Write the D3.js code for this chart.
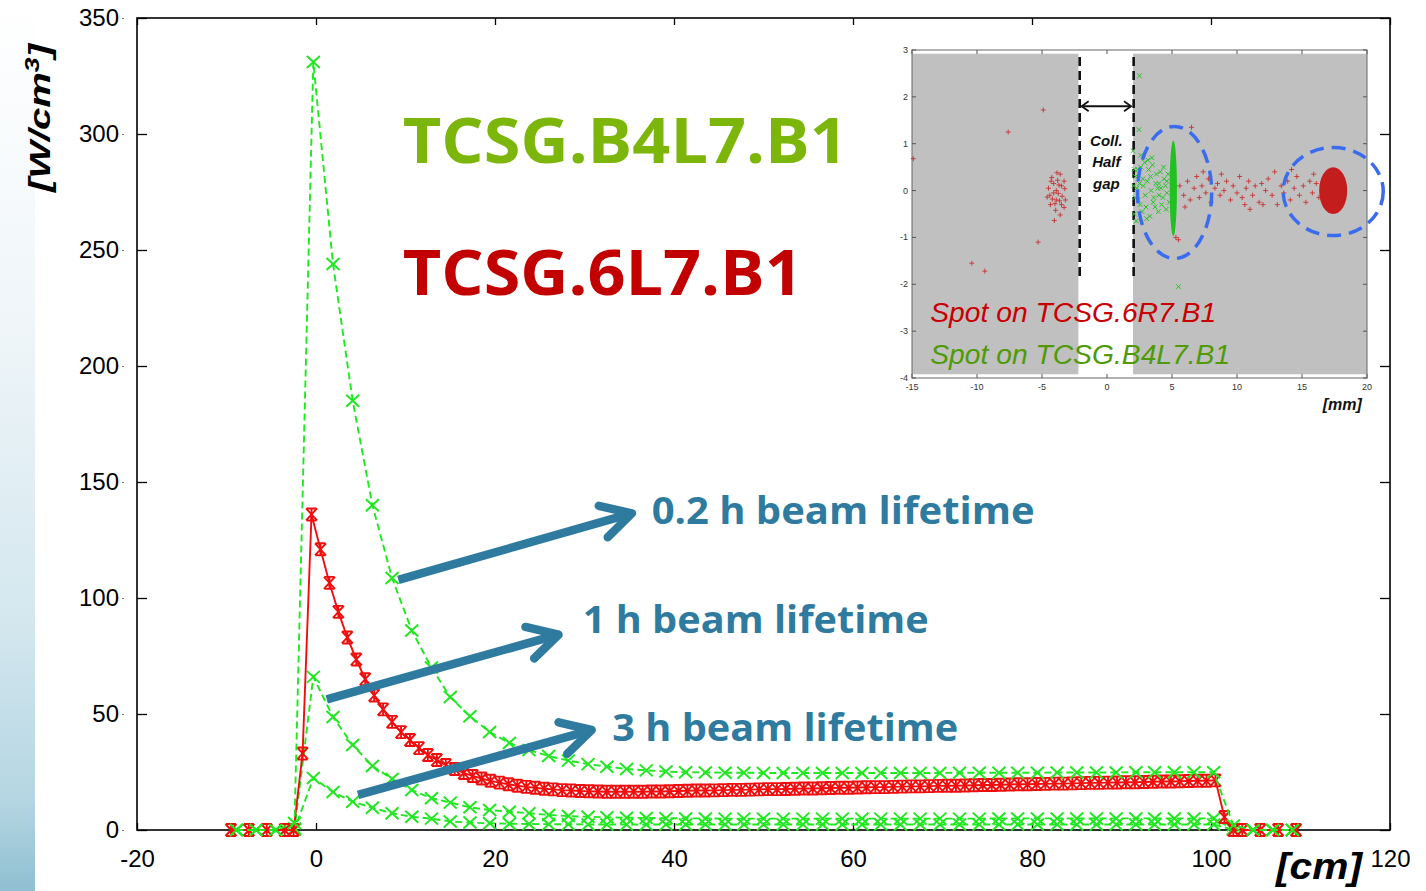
<!DOCTYPE html>
<html><head><meta charset="utf-8">
<script src="https://cdn.jsdelivr.net/npm/d3@7"></script>
<style>body{margin:0;background:#fff;overflow:hidden} svg{display:block}</style>
</head><body>
<svg id="c" width="1426" height="891"></svg>
<script>
// ---------- data ----------
const xTicks = [-20,0,20,40,60,80,100,120];
const yTicks = [0,50,100,150,200,250,300,350];

// TCSG.6L7.B1 (red, solid)
const redX = [-9.5,-7.5,-5.5,-3.5,-2.5,-1.5,-0.5,
  0.5,1.5,2.5,3.5,4.5,5.5,6.5,7.5,8.5,9.5,
  10.5,11.5,12.5,13.5,14.5,15.5,16.5,17.5,18.5,19.5,
  20.5,21.5,22.5,23.5,24.5,25.5,26.5,27.5,28.5,29.5,
  30.5,31.5,32.5,33.5,34.5,35.5,36.5,37.5,38.5,39.5,
  40.5,41.5,42.5,43.5,44.5,45.5,46.5,47.5,48.5,49.5,
  50.5,51.5,52.5,53.5,54.5,55.5,56.5,57.5,58.5,59.5,
  60.5,61.5,62.5,63.5,64.5,65.5,66.5,67.5,68.5,69.5,
  70.5,71.5,72.5,73.5,74.5,75.5,76.5,77.5,78.5,79.5,
  80.5,81.5,82.5,83.5,84.5,85.5,86.5,87.5,88.5,89.5,
  90.5,91.5,92.5,93.5,94.5,95.5,96.5,97.5,98.5,99.5,
  100.5,101.5,102.5,103.5,105.5,107.5,109.5];
const redY = [0,0,0,0,0,33,136,
  121,106.5,94,83,73.5,65,58,52,46.6,42.2,
  38.8,35.3,32.3,30.2,28,26.3,24.6,23.3,22.2,21.2,
  20.4,19.7,19.1,18.6,18.2,17.8,17.5,17.2,17.0,16.8,
  16.7,16.6,16.5,16.5,16.5,16.5,16.5,16.6,16.6,16.7,
  16.8,16.9,17.0,17.0,17.1,17.2,17.3,17.3,17.4,17.5,
  17.6,17.6,17.7,17.8,17.9,17.9,18.0,18.1,18.2,18.2,
  18.3,18.4,18.5,18.5,18.6,18.7,18.8,18.8,18.9,19.0,
  19.1,19.1,19.2,19.3,19.4,19.4,19.5,19.6,19.7,19.7,
  19.8,19.9,20.0,20.0,20.1,20.2,20.3,20.3,20.4,20.5,
  20.6,20.6,20.7,20.8,20.9,20.9,21.0,21.1,21.2,21.2,
  21.4,5.6,0,0,0,0,0];

// TCSG.B4L7.B1 (green, dashed) - three beam lifetimes
const greenX = [-8.9,-6.7,-4.5,-2.4,-0.3,1.9,4.1,6.3,8.5,10.7,
  12.9,15.0,17.2,19.4,21.6,23.8,26.0,28.2,30.4,32.5,
  34.7,36.9,39.1,41.3,43.5,45.7,47.8,50.0,52.2,54.4,
  56.6,58.8,61.0,63.1,65.3,67.5,69.7,71.9,74.1,76.3,
  78.4,80.6,82.8,85.0,87.2,89.4,91.6,93.7,95.9,98.1,
  100.3,102.5,104.7,106.9,109.1];
const green02h = [0,0,0,3,331,244,185,140,108.6,86,
  70,57.3,49,42.2,37.5,34.5,31.9,29.9,28.4,27.3,
  26.3,25.7,25.2,24.9,24.8,24.7,24.7,24.6,24.6,24.6,
  24.6,24.6,24.6,24.6,24.6,24.6,24.6,24.7,24.7,24.7,
  24.7,24.7,24.8,24.8,24.8,24.8,24.9,24.9,24.9,24.9,
  24.9,2.0,0,0,0];
const green1h = [0,0,0,0.6,66,48.7,36.6,27.6,22,17.2,
  13.7,11.8,9.8,8.6,7.9,7.2,6.5,6.0,5.7,5.5,
  5.3,5.2,5.1,5.0,5.0,4.9,4.9,4.9,4.9,4.9,
  4.9,4.9,4.9,4.9,4.9,4.9,4.9,4.9,4.9,5.0,
  5.0,5.0,5.0,5.0,5.0,5.0,5.0,5.0,5.0,5.0,
  5.0,0.4,0,0,0];
const green3h = [0,0,0,0.2,22.4,16.4,12.2,9.6,7.2,5.7,
  4.9,3.7,3.2,2.9,2.7,2.6,2.5,2.5,2.4,2.4,
  2.4,2.4,2.4,2.4,2.4,2.4,2.4,2.4,2.4,2.4,
  2.4,2.4,2.4,2.4,2.4,2.4,2.4,2.4,2.4,2.4,
  2.4,2.4,2.4,2.4,2.4,2.4,2.4,2.4,2.4,2.4,
  2.4,0.1,0,0,0];

// annotations (data coords)
const lifetimeLabels = ["0.2 h beam lifetime","1 h beam lifetime","3 h beam lifetime"];
const arrowFrom = [[9.2,107.8],[1.2,56.3],[4.7,15.1]];
const arrowTo   = [[35.3,136.5],[27.1,84.2],[30.8,43.1]];
const labelPos  = [[37.5,131.8],[29.8,85.0],[33.1,38.2]];
const labelLen  = [383,346,346];
const titles = ["TCSG.B4L7.B1","TCSG.6L7.B1"];
const titlePos = [[9.7,287.5],[9.7,230.6]];
const titleLen = [445,400];

// inset (mm)
const insetXTicks = [-15,-10,-5,0,5,10,15,20];
const insetYTicks = [3,2,1,0,-1,-2,-3,-4];
const insetRed = [[-4.3,0.2],[-4.1,0.15],[-3.9,0.0],[-4.4,-0.1],[-3.6,0.35],[-3.9,-0.2],[-4.1,-0.05],[-3.5,-0.3],
  [-4.25,0.28],[-3.7,0.12],[-3.95,-0.42],[-4.5,0.05],[-3.3,0.2],[-3.45,-0.12],[-4.0,-0.28],[-3.75,-0.06],
  [-4.2,-0.18],[-3.6,-0.52],[-3.85,0.38],[-4.6,-0.14],[-3.25,0.04],[-3.5,0.1],[-3.3,-0.36],[-4.05,-0.64],
  [-3.8,0.22],[-4.35,-0.3],[-3.65,-0.22],[-3.2,-0.2],
  [-4.9,1.72],[-7.6,1.25],[-10.4,-1.55],[-9.4,-1.72],[-5.3,-1.1],[-14.9,0.68],
  [6.5,1.35],[5.3,-1.0],[5.5,-1.05],
  [5.6,0.1],[5.9,-0.1],[6.2,0.2],[6.4,-0.2],[6.7,0.05],[6.9,0.3],[7.1,-0.15],[7.3,0.1],[7.6,-0.05],
  [7.8,0.25],[8.0,-0.25],[8.3,0.05],[8.5,0.15],[8.7,-0.1],[9.0,0.0],[9.2,0.2],[9.5,-0.2],[9.7,0.1],
  [10.0,-0.05],[10.2,0.3],[10.4,-0.15],[10.7,0.05],[10.9,0.2],[11.2,-0.1],[11.4,0.1],[11.7,-0.25],
  [11.9,0.15],[12.2,0.0],[12.4,0.25],[12.7,-0.1],[12.9,0.4],[13.1,-0.3],[13.4,0.1],[13.6,-0.05],
  [13.9,0.2],[14.1,-0.2],[14.4,0.05],[14.6,0.3],[14.8,-0.1],[15.1,0.1],[15.3,-0.25],[15.6,0.2],
  [15.8,-0.05],[16.1,0.15],[16.3,-0.15],[16.6,0.05],[8.8,0.35],[10.6,-0.3],[7.4,0.4],[12.0,-0.3],
  [14.2,0.45],[15.9,0.35],[6.0,-0.35],[11.0,-0.4]];
const insetGreen = [[2.5,2.45],[2.45,1.3],[5.5,-2.05],[2.0,0.85],[2.1,-0.5],
  [2.2,0.3],[2.4,-0.2],[2.6,0.5],[2.8,0.1],[3.0,-0.35],[3.2,0.45],[3.4,0.0],[3.6,-0.15],[3.8,0.35],
  [4.0,0.15],[4.2,-0.3],[4.4,0.25],[4.6,-0.05],[2.3,0.05],[2.7,-0.45],[2.9,0.6],[3.1,0.2],[3.3,-0.55],
  [3.5,0.55],[3.7,-0.35],[3.9,0.05],[4.1,0.4],[4.3,-0.15],[4.5,0.1],[4.7,0.35],[4.8,-0.25],[2.5,0.15],
  [2.15,-0.15],[2.35,0.45],[2.55,-0.3],[2.75,0.25],[2.95,-0.1],[3.15,0.65],[3.35,0.3],[3.55,-0.25],
  [3.75,0.15],[3.95,-0.45],[4.15,0.05],[4.35,0.5],[4.55,-0.4],[2.25,-0.65],[3.05,-0.6],[2.6,0.75],
  [3.45,0.7],[4.0,-0.1],[4.6,0.2],[2.05,0.1],[2.1,0.45]];
const insetBlobs = [ // [cx, cy, rx, ry] mm
  [5.1,0.05,0.28,1.02],[17.4,0.0,1.08,0.5]];
const insetRings = [[5.2,-0.04,2.85,1.41],[17.4,-0.02,3.85,0.94]];
const insetSpots = ["Spot on TCSG.6R7.B1","Spot on TCSG.B4L7.B1"];

// ---------- drawing ----------
const svg = d3.select("#c");
const defs = svg.append("defs");
const grad = defs.append("linearGradient").attr("id","side").attr("x1",0).attr("y1",0).attr("x2",0).attr("y2",1);
[[0,"#ffffff"],[0.35,"#f0f6f9"],[0.7,"#d4e7ef"],[0.9,"#b4d5e2"],[1,"#8fbfd1"]]
  .forEach(([o,c])=>grad.append("stop").attr("offset",o).attr("stop-color",c));
svg.append("rect").attr("x",0).attr("y",0).attr("width",35).attr("height",891).attr("fill","url(#side)");

const x = d3.scaleLinear().domain([-20,120]).range([137,1390]);
const y = d3.scaleLinear().domain([0,350]).range([830,18]);

// frame
svg.append("rect").attr("x",137).attr("y",18).attr("width",1390-137).attr("height",812)
  .attr("fill","none").attr("stroke","#000").attr("stroke-width",1.6);

const font = "'Liberation Sans', Arial, sans-serif";
const fmt = d => String(d);
const gx = svg.append("g").attr("transform","translate(0,830)")
  .call(d3.axisBottom(x).tickValues(xTicks).tickFormat(fmt).tickSizeInner(-7).tickSizeOuter(0).tickPadding(20));
const gxt = svg.append("g").attr("transform","translate(0,18)")
  .call(d3.axisTop(x).tickValues(xTicks).tickSizeInner(-7).tickSizeOuter(0).tickFormat(""));
const gy = svg.append("g").attr("transform","translate(137,0)")
  .call(d3.axisLeft(y).tickValues(yTicks).tickFormat(fmt).tickSizeInner(-10).tickSizeOuter(0).tickPadding(18));
const gyr = svg.append("g").attr("transform","translate(1390,0)")
  .call(d3.axisRight(y).tickValues(yTicks).tickSizeInner(-10).tickSizeOuter(0).tickFormat(""));
[gx,gxt,gy,gyr].forEach(g=>{
  g.select(".domain").remove();
  g.selectAll("line").attr("stroke","#000").attr("stroke-width",1.3);
  g.selectAll("text").attr("font-family",font).attr("font-size",24).attr("fill","#000");
});
gy.selectAll(".tick").append("line").attr("x1",-15).attr("x2",-13).attr("stroke","#777").attr("stroke-width",1);

// series
const lineG = d3.line().x(d=>x(d[0])).y(d=>y(d[1]));
const greenCol = "#1ee81e", redCol = "#f20d0d";
const xMark = "M-6.5,-6L6.5,6M-6.5,6L6.5,-6";
const starMark = "M-5.5,-6L5.5,6M-5.5,6L5.5,-6M-5,-6L5,-6M-5,6L5,6M0,-6V6";

function drawSeries(xs, ys, col, dashed, marker, sw){
  const pts = xs.map((v,i)=>[v,ys[i]]);
  svg.append("path").datum(pts).attr("d",lineG).attr("fill","none").attr("stroke",col)
    .attr("stroke-width",1.9).attr("stroke-dasharray",dashed?"7,4":null);
  svg.append("g").selectAll("path").data(pts).join("path")
    .attr("transform",d=>`translate(${x(d[0])},${y(d[1])})`)
    .attr("d",marker).attr("fill","none").attr("stroke",col).attr("stroke-width",sw);
}
drawSeries(greenX, green3h, greenCol, true, xMark, 2);
drawSeries(greenX, green1h, greenCol, true, xMark, 2);
drawSeries(redX, redY, redCol, false, starMark, 1.9);
drawSeries(greenX, green02h, greenCol, true, xMark, 2);

// titles
const titleCols = ["#7db60a","#c30000"];
titles.forEach((t,i)=>{
  svg.append("text").attr("x",x(titlePos[i][0])).attr("y",y(titlePos[i][1]))
    .attr("font-family","'Open Sans', sans-serif").attr("font-weight",700).attr("font-size",62)
    .attr("fill",titleCols[i]).attr("textLength",titleLen[i]).attr("lengthAdjust","spacingAndGlyphs").text(t);
});

// arrows + lifetime labels
const blue = "#2f7ba0";
arrowFrom.forEach((f,i)=>{
  const x1=x(f[0]), y1=y(f[1]), x2=x(arrowTo[i][0]), y2=y(arrowTo[i][1]);
  const a = Math.atan2(y2-y1,x2-x1), L=34, h=0.5;
  const p1=[x2-L*Math.cos(a-h), y2-L*Math.sin(a-h)], p2=[x2-L*Math.cos(a+h), y2-L*Math.sin(a+h)];
  svg.append("line").attr("x1",x1).attr("y1",y1).attr("x2",x2-3*Math.cos(a)).attr("y2",y2-3*Math.sin(a))
    .attr("stroke",blue).attr("stroke-width",8.5);
  svg.append("path").attr("d",`M${p1}L${x2},${y2}L${p2}`).attr("fill","none").attr("stroke",blue)
    .attr("stroke-width",8.5).attr("stroke-linecap","round").attr("stroke-linejoin","round");
  svg.append("text").attr("x",x(labelPos[i][0])).attr("y",y(labelPos[i][1]))
    .attr("font-family","'Open Sans', sans-serif").attr("font-weight",700).attr("font-size",38)
    .attr("fill",blue).attr("textLength",labelLen[i]).attr("lengthAdjust","spacingAndGlyphs").text(lifetimeLabels[i]);
});

// axis titles
const yl = svg.append("text").attr("transform","translate(50,192) rotate(-90)")
  .attr("font-family",font).attr("font-weight",700).attr("font-style","italic").attr("font-size",30)
  .attr("fill","#000").attr("textLength",148).attr("lengthAdjust","spacingAndGlyphs");
yl.append("tspan").text("[W/cm");
yl.append("tspan").attr("dy",-11).attr("font-size",20).text("3");
yl.append("tspan").attr("dy",11).text("]");
svg.append("text").attr("x",1276).attr("y",879).attr("font-family",font).attr("font-weight",700)
  .attr("font-style","italic").attr("font-size",36).attr("fill","#000")
  .attr("textLength",86).attr("lengthAdjust","spacingAndGlyphs").text("[cm]");

// ---------- inset ----------
const mx = d3.scaleLinear().domain([-15,20]).range([912,1367]);
const my = d3.scaleLinear().domain([-4,3]).range([378,50]);
const ig = svg.append("g");
ig.append("rect").attr("x",mx(-15)).attr("y",my(2.92)).attr("width",mx(-2.2)-mx(-15)).attr("height",my(-3.92)-my(2.92)).attr("fill","#c0c0c0");
ig.append("rect").attr("x",mx(2.0)).attr("y",my(2.92)).attr("width",mx(20)-mx(2.0)).attr("height",my(-3.92)-my(2.92)).attr("fill","#c0c0c0");
ig.append("rect").attr("x",mx(-15)).attr("y",my(3)).attr("width",mx(20)-mx(-15)).attr("height",my(-4)-my(3))
  .attr("fill","none").attr("stroke","#666").attr("stroke-width",1);
insetYTicks.forEach(t=>{
  ig.append("line").attr("x1",mx(-15)).attr("x2",mx(-15)+4).attr("y1",my(t)).attr("y2",my(t)).attr("stroke","#555");
  ig.append("line").attr("x1",mx(20)).attr("x2",mx(20)-4).attr("y1",my(t)).attr("y2",my(t)).attr("stroke","#555");
  ig.append("text").attr("x",mx(-15)-4).attr("y",my(t)+3).attr("text-anchor","end").attr("font-family",font)
    .attr("font-size",9).attr("fill","#333").text(t);
});
insetXTicks.forEach(t=>{
  ig.append("line").attr("x1",mx(t)).attr("x2",mx(t)).attr("y1",my(-4)).attr("y2",my(-4)-4).attr("stroke","#555");
  ig.append("line").attr("x1",mx(t)).attr("x2",mx(t)).attr("y1",my(3)).attr("y2",my(3)+4).attr("stroke","#555");
  ig.append("text").attr("x",mx(t)).attr("y",my(-4)+12).attr("text-anchor","middle").attr("font-family",font)
    .attr("font-size",9).attr("fill","#333").text(t);
});
// gap lines
[-2.1,2.05].forEach(v=>ig.append("line").attr("x1",mx(v)).attr("x2",mx(v)).attr("y1",my(2.85)).attr("y2",my(-1.9))
  .attr("stroke","#111").attr("stroke-width",2.6).attr("stroke-dasharray","9,5"));
// double arrow
const ay = my(1.8);
ig.append("line").attr("x1",mx(-1.95)).attr("x2",mx(1.85)).attr("y1",ay).attr("y2",ay).attr("stroke","#111").attr("stroke-width",1.8);
ig.append("path").attr("d",`M${mx(-1.95)+7},${ay-5}L${mx(-1.95)},${ay}L${mx(-1.95)+7},${ay+5}M${mx(1.85)-7},${ay-5}L${mx(1.85)},${ay}L${mx(1.85)-7},${ay+5}`)
  .attr("fill","none").attr("stroke","#111").attr("stroke-width",1.8);
[["Coll.",0.95],["Half",0.5],["gap",0.04]].forEach(([t,v])=>ig.append("text").attr("x",mx(-0.05)).attr("y",my(v))
  .attr("text-anchor","middle").attr("font-family",font).attr("font-weight",700).attr("font-style","italic")
  .attr("font-size",15).attr("fill","#111").text(t));
// scatter
const plusMark = "M-2.5,0H2.5M0,-2.5V2.5", crossMark = "M-2.3,-2.3L2.3,2.3M-2.3,2.3L2.3,-2.3";
ig.append("g").selectAll("path").data(insetRed).join("path")
  .attr("transform",d=>`translate(${mx(d[0])},${my(d[1])})`).attr("d",plusMark)
  .attr("stroke","#c83232").attr("stroke-width",0.9).attr("fill","none");
ig.append("g").selectAll("path").data(insetGreen).join("path")
  .attr("transform",d=>`translate(${mx(d[0])},${my(d[1])})`).attr("d",crossMark)
  .attr("stroke","#22c322").attr("stroke-width",1).attr("fill","none");
const blobCols = ["#1fc21f","#c41d1d"];
insetBlobs.forEach((b,i)=>ig.append("ellipse").attr("cx",mx(b[0])).attr("cy",my(b[1]))
  .attr("rx",mx(b[2])-mx(0)).attr("ry",my(0)-my(b[3])).attr("fill",blobCols[i]));
insetRings.forEach(r=>ig.append("ellipse").attr("cx",mx(r[0])).attr("cy",my(r[1]))
  .attr("rx",mx(r[2])-mx(0)).attr("ry",my(0)-my(r[3])).attr("fill","none")
  .attr("stroke","#3a6cf0").attr("stroke-width",3.5).attr("stroke-dasharray","14,8"));
const spotCols = ["#c80000","#4f9a06"];
insetSpots.forEach((t,i)=>ig.append("text").attr("x",mx(-13.6)).attr("y",my(i===0?-2.81:-3.71))
  .attr("font-family",font).attr("font-style","italic").attr("font-size",27).attr("fill",spotCols[i])
  .attr("textLength",i===0?286:300).attr("lengthAdjust","spacingAndGlyphs").text(t));
ig.append("text").attr("x",mx(19.6)).attr("y",my(-4.68)).attr("text-anchor","end").attr("font-family",font)
  .attr("font-weight",700).attr("font-style","italic").attr("font-size",16).attr("fill","#111").text("[mm]");
</script>
</body></html>
